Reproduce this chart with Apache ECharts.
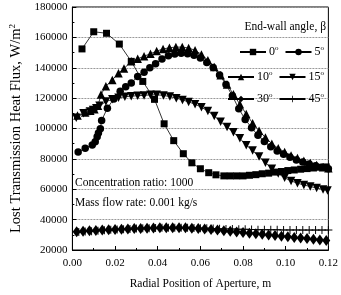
<!DOCTYPE html>
<html>
<head>
<meta charset="utf-8">
<script src="https://cdn.jsdelivr.net/npm/echarts@6/dist/echarts.min.js"></script>
<style>html,body{margin:0;padding:0;background:#fff}#c{width:341px;height:295px}</style>
</head>
<body>
<div id="c"></div>
<script>
// ---- data ----
const xTicks = ['0.00','0.02','0.04','0.06','0.08','0.10','0.12'];
const yTicks = ['20000','40000','60000','80000','100000','120000','140000','160000','180000'];
const seriesNames = ['0°','5°','10°','15°','30°','45°'];

const x0 = [0.0045,0.010,0.016,0.022,0.0276,0.033,0.0385,0.043,0.0475,0.052,0.056,0.060,0.0639,0.0673,0.071,0.074,0.077,0.080,0.083,0.086,0.089,0.092,0.095,0.098,0.101,0.104,0.107,0.110,0.113,0.116,0.119];
const y0 = [152400,163700,162700,155600,144200,131000,119200,103100,92000,83400,77400,73500,70900,69500,68800,68800,68800,68800,69200,69600,70200,70600,71300,71700,72300,72700,73200,73600,74000,74500,74700];

const x5 = [0.0027,0.006,0.0093,0.0107,0.0116,0.0122,0.0131,0.0137,0.0164,0.0194,0.0224,0.025,0.0276,0.0306,0.0336,0.0363,0.039,0.042,0.045,0.048,0.051,0.054,0.057,0.060,0.063,0.066,0.069,0.072,0.075,0.078,0.081,0.084,0.087,0.090,0.093,0.096,0.099,0.102,0.105,0.108,0.111,0.114,0.117,0.120];
const y5 = [84500,87000,89200,91300,94500,97100,99900,105300,113400,119500,124500,127500,130000,134200,137000,140000,142700,145800,147900,149100,149600,149300,148300,146400,143500,140200,135200,129000,121500,113000,106000,100500,95500,91500,88000,85200,83000,81000,79300,77900,76600,75500,74500,73500];

const x10 = [0.0024,0.006,0.0084,0.0103,0.012,0.0134,0.0157,0.0187,0.0216,0.0242,0.0276,0.0306,0.0336,0.0366,0.0395,0.0425,0.0455,0.0485,0.0515,0.0545,0.0575,0.0605,0.0635,0.0665,0.0695,0.0725,0.0755,0.0785,0.0815,0.0845,0.0875,0.0905,0.0935,0.0965,0.0995,0.1025,0.1055,0.1085,0.1115,0.1145,0.1175,0.120];
const y10 = [108500,110600,111700,112700,114900,122400,127800,132000,136300,139500,144200,145900,147600,149200,151000,152300,153200,153600,153600,153000,151500,148800,145000,140500,135000,129000,122500,116000,109500,103500,98500,94000,90000,87000,84500,82300,80500,78800,77300,76000,74500,73800];

const x15 = [0.0018,0.0052,0.0082,0.0097,0.0112,0.0127,0.0157,0.0187,0.0216,0.0246,0.0276,0.0306,0.0336,0.0366,0.0395,0.0427,0.0457,0.0487,0.0516,0.0545,0.0575,0.0605,0.0635,0.0665,0.0695,0.0725,0.0755,0.0785,0.0815,0.0845,0.0875,0.0905,0.0935,0.0965,0.0995,0.1025,0.1055,0.1085,0.1115,0.1145,0.1175,0.1196];
const y15 = [107000,110000,111200,112100,113400,114900,117700,119200,120200,120900,121300,121600,121800,122200,122200,121800,121000,120000,118800,117500,116000,114000,111500,108200,104500,101000,97500,93500,89000,85500,81500,77500,73500,70300,67500,65500,64000,62800,61800,60800,59800,59200];

const x30 = [0.002,0.005,0.008,0.011,0.014,0.017,0.020,0.023,0.026,0.029,0.032,0.035,0.038,0.041,0.044,0.047,0.050,0.053,0.056,0.059,0.062,0.065,0.068,0.071,0.074,0.077,0.080,0.083,0.086,0.089,0.092,0.095,0.098,0.101,0.104,0.107,0.110,0.113,0.116,0.119];
const y30 = [32000,32300,32600,32900,33100,33300,33500,33700,33900,34100,34200,34400,34500,34600,34700,34700,34700,34600,34400,34200,33900,33500,33100,32700,32300,31900,31500,31100,30700,30300,29900,29500,29100,28700,28300,27900,27500,27000,26600,26200];

const x45 = [0.003,0.006,0.009,0.012,0.015,0.018,0.021,0.024,0.027,0.030,0.033,0.036,0.039,0.042,0.045,0.048,0.051,0.054,0.057,0.060,0.063,0.066,0.069,0.072,0.075,0.078,0.081,0.084,0.087,0.090,0.093,0.096,0.099,0.102,0.105,0.108,0.111,0.114,0.117,0.120];
const y45 = [31800,32100,32400,32700,33000,33300,33500,33700,33900,34100,34300,34400,34500,34600,34700,34700,34700,34600,34500,34400,34300,34200,34000,33900,33800,33700,33600,33500,33400,33400,33300,33300,33200,33200,33200,33100,33100,33100,33100,33100];

// ---- chart ----
const FONT = '"Liberation Serif","Times New Roman",serif';
const zip = (xs, ys) => xs.map((x, i) => [x, ys[i]]);
const plusPath = 'path://M4.4,0H5.6V4.4H10V5.6H5.6V10H4.4V5.6H0V4.4H4.4Z';

function mk(name, xs, ys, symbol, size, rot) {
  return {
    name: name, type: 'line', data: zip(xs, ys),
    symbol: symbol, symbolSize: size, symbolRotate: rot || 0,
    showSymbol: true, animation: false,
    lineStyle: { color: '#000', width: 0.8 },
    itemStyle: { color: '#000', borderColor: '#000', borderWidth: 0 }
  };
}

const legendFmt = n => '{n|' + n.replace('°', '') + '}{s|o}';
const legendRich = {
  n: { fontFamily: FONT, fontSize: 12, color: '#000', lineHeight: 14 },
  s: { fontFamily: FONT, fontSize: 7, color: '#000', verticalAlign: 'top', lineHeight: 14 }
};
function leg(data, top) {
  return {
    data: data, top: top, right: 12, orient: 'horizontal',
    itemWidth: 26, itemHeight: 8, itemGap: 6,
    formatter: legendFmt,
    textStyle: { fontFamily: FONT, fontSize: 12, color: '#000', rich: legendRich, padding: [0,0,0,-2] },
    selectedMode: false
  };
}

const chart = echarts.init(document.getElementById('c'), null, { renderer: 'canvas' });
chart.setOption({
  backgroundColor: '#fff',
  animation: false,
  grid: { left: 63, right: 10, top: 7, bottom: 39, show: true, borderColor: '#000', borderWidth: 1 },
  xAxis: {
    type: 'value', min: 0, max: 0.12, interval: 0.02,
    name: 'Radial Position of Aperture, m', nameLocation: 'middle', nameGap: 28,
    nameTextStyle: { fontFamily: FONT, fontSize: 11.5, color: '#000' },
    axisLine: { lineStyle: { color: '#000', width: 1 } },
    axisTick: { inside: true, length: 4, lineStyle: { color: '#000' } },
    minorTick: { show: true, splitNumber: 2, length: 2, lineStyle: { color: '#000' } },
    axisLabel: { fontFamily: FONT, fontSize: 11, color: '#000', margin: 8,
      formatter: v => xTicks[Math.round(v / 0.02)] },
    splitLine: { show: false }
  },
  yAxis: {
    type: 'value', min: 20000, max: 180000, interval: 20000,
    name: 'Lost Transmission Heat Flux, W/m{s|2}', nameLocation: 'middle', nameGap: 45, nameRotate: 90,
    nameTextStyle: { fontFamily: FONT, fontSize: 14.5, color: '#000',
      rich: { s: { fontFamily: FONT, fontSize: 9, color: '#000', verticalAlign: 'top', lineHeight: 16 } } },
    axisLine: { lineStyle: { color: '#000', width: 1 } },
    axisTick: { inside: true, length: 4, lineStyle: { color: '#000' } },
    minorTick: { show: true, splitNumber: 2, length: 2, lineStyle: { color: '#000' } },
    axisLabel: { fontFamily: FONT, fontSize: 11, color: '#000', margin: 5,
      formatter: v => yTicks[Math.round((v - 20000) / 20000)] },
    splitLine: { show: true, lineStyle: { color: '#999', type: [2, 1], width: 1 } }
  },
  legend: [
    leg([seriesNames[0], seriesNames[1]], 40),
    leg([seriesNames[2], seriesNames[3]], 65),
    leg([seriesNames[4], seriesNames[5]], 87)
  ],
  graphic: [
    { type: 'text', right: 15, top: 21, style: { text: 'End-wall angle, β', font: '11.5px ' + FONT, fill: '#000' } },
    { type: 'text', left: 75, top: 177, style: { text: 'Concentration ratio: 1000', font: '11.5px ' + FONT, fill: '#000' } },
    { type: 'text', left: 75, top: 197, style: { text: 'Mass flow rate: 0.001 kg/s', font: '11.5px ' + FONT, fill: '#000' } }
  ],
  series: [
    mk(seriesNames[0], x0, y0, 'rect', 7),
    mk(seriesNames[1], x5, y5, 'circle', 7.5),
    mk(seriesNames[2], x10, y10, 'triangle', 8.5),
    mk(seriesNames[3], x15, y15, 'triangle', 8.5, 180),
    mk(seriesNames[4], x30, y30, 'diamond', [8, 11]),
    mk(seriesNames[5], x45, y45, plusPath, 8)
  ]
});
</script>
</body>
</html>
